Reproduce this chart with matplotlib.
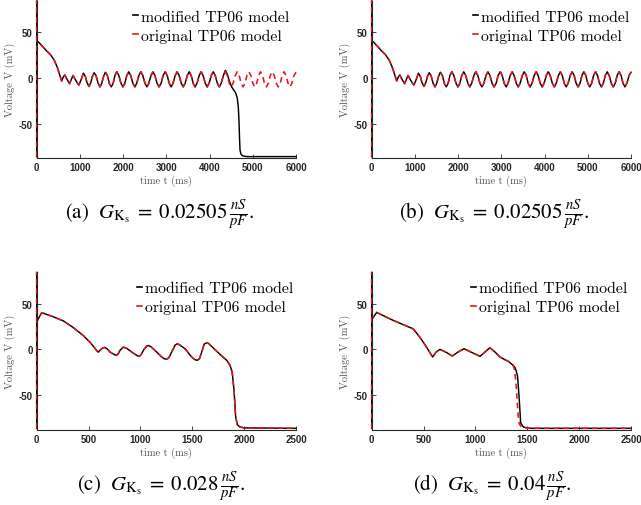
import matplotlib
matplotlib.use("Agg")
import matplotlib.pyplot as plt
from matplotlib.lines import Line2D

plt.rcParams['axes.unicode_minus'] = False

# ---- data (time in ms, voltage in mV) ----
# sustained oscillation trace, panels (a) red and (b) both curves
osc_t = [0, 0, 8, 40, 120, 215, 320, 407, 480, 540, 578, 612, 650, 705, 760, 800, 840, 905, 975, 1030,
         1080, 1125, 1165, 1210, 1250, 1290,
         1330, 1375, 1420, 1465, 1505, 1550,
         1590, 1635, 1680, 1725, 1770, 1810,
         1855, 1900, 1950, 1995, 2040, 2085,
         2130, 2175, 2225, 2270, 2315, 2365,
         2410, 2455, 2505, 2550, 2595, 2645,
         2690, 2735, 2785, 2830, 2880, 2925,
         2975, 3020, 3065, 3110, 3155, 3205,
         3250, 3295, 3345, 3390, 3435, 3485,
         3530, 3575, 3620, 3665, 3710, 3760,
         3805, 3850, 3900, 3945, 3990, 4040,
         4085, 4130, 4180, 4225, 4270, 4320,
         4365, 4410, 4455, 4500, 4545, 4595,
         4640, 4685, 4730, 4775, 4820, 4865,
         4910, 4955, 5000, 5045, 5090, 5135,
         5180, 5225, 5270, 5315, 5360, 5405,
         5450, 5495, 5545, 5590, 5635, 5680,
         5725, 5770, 5815, 5860, 5905, 5955, 6000]
osc_v = [-86, 84, 40, 39, 35, 30, 25, 19, 11, 2, -3.5, 0.5, 3, -2, -6.5, -2, 2.5, -3, -8, -2,
         5, 1.5, -5.5, -9.5, -5.5, 1.5,
         5.5, 2, -6, -10, -6, 2,
         6, 2.5, -6, -10, -6, 2.5,
         6.5, 2.5, -6, -10, -6, 2.5,
         6.5, 2.5, -6, -10, -6, 2.5,
         6.5, 2.5, -6, -10, -6, 2.5,
         6.5, 2.5, -6, -10, -6, 2.5,
         6.5, 2.5, -6, -10, -6, 2.5,
         6.5, 2.5, -6, -10, -6, 2.5,
         6.5, 2.5, -6, -10, -6, 2.5,
         6.5, 2.5, -6, -10, -6, 2.5,
         6.5, 2.5, -6, -10, -6, 2.5,
         6.5, 2.5, -6, -10, -6, 2.5,
         6.5, 2.5, -6, -10, -6, 2.5,
         6.5, 2.5, -6, -10, -6, 2.5,
         6.5, 2.5, -6, -10, -6, 2.5,
         6.5, 2.5, -6, -10, -6, 2.5,
         6.5, 2.5, -6, -10, -6, 2.5, 6]

# panel (a) modified model: follows oscillation until ~4320 ms then repolarises
a_cut = osc_t.index(4320) + 1
a_tail_t = [4365, 4410, 4460, 4512, 4560, 4604, 4640, 4665, 4680, 4695, 4705, 4725, 4760, 4850, 6000]
a_tail_v = [8, 4, -4, -10, -13.5, -16.6, -22, -32, -46, -68, -79, -83, -85, -86, -86]
a_mod_t = osc_t[:a_cut] + a_tail_t
a_mod_v = osc_v[:a_cut] + a_tail_v

# panel (c) both models (overlapping)
c_t = [0, 0, 4, 48, 150, 257, 350, 450, 520, 580, 594, 610, 627, 655, 680, 707, 755, 768, 785, 803,
       835, 870, 916, 975, 990, 1008, 1028, 1060, 1076, 1100, 1157, 1205, 1230, 1253, 1275, 1301,
       1335, 1356, 1380, 1430, 1494, 1525, 1549, 1570, 1591, 1615, 1639, 1660, 1687, 1767, 1832,
       1864, 1885, 1902, 1918, 1934, 1960, 2000, 2500]
c_v = [-86, 84, 31, 40, 36, 31, 24, 15, 7, -1.5, -3, -1, 0.8, 2.2, 0.5, -2.9, -6, -6.5, -5, -1.1,
       2.5, 1, -2.9, -7.2, -7.6, -5.5, -1.1, 3.5, 4.3, 3, -2.9, -8.3, -10.2, -10.8, -9, -2.9,
       4.8, 6.1, 4.8, 0.7, -8.3, -11.2, -11.9, -10, -2.9, 5.8, 7.2, 6.3, 3.2, -5.4, -11.9,
       -17.3, -25, -44, -73, -82, -84.6, -85.5, -86]

# panel (d)
d_mod_t = [0, 0, 4, 48, 200, 401, 466, 520, 588, 620, 658, 715, 777, 830, 890, 960, 1044, 1090, 1140,
           1190, 1237, 1280, 1317, 1360, 1382, 1395, 1407, 1423, 1436, 1462, 1525, 2500]
d_mod_v = [-86, 84, 33, 40.3, 32, 22.3, 13, 4, -8.3, -3, 0, -3, -7.2, -3, 0.7, -3, -7.6, -3, 1.8,
           -3, -8.3, -11, -13, -17, -19.8, -24, -30, -55, -80, -84.6, -86, -86]
d_cut = d_mod_t.index(1360) + 1
d_org_t = d_mod_t[:d_cut] + [1375, 1390, 1402, 1412, 1422, 1446, 1525, 2500]
d_org_v = d_mod_v[:d_cut] + [-21, -35, -55, -72, -81, -85, -86, -86]

xticks_long = [0, 1000, 2000, 3000, 4000, 5000, 6000]
xticks_short = [0, 500, 1000, 1500, 2000, 2500]
yticks = [-50, 0, 50]

captions = [r"(a)  $G_{\mathrm{K_s}}\;=\;0.02505\,\frac{nS}{pF}$.",
            r"(b)  $G_{\mathrm{K_s}}\;=\;0.02505\,\frac{nS}{pF}$.",
            r"(c)  $G_{\mathrm{K_s}}\;=\;0.028\,\frac{nS}{pF}$.",
            r"(d)  $G_{\mathrm{K_s}}\;=\;0.04\,\frac{nS}{pF}$."]

panels = [
    (a_mod_t, a_mod_v, osc_t, osc_v, 6000, xticks_long),
    (osc_t, osc_v, osc_t, osc_v, 6000, xticks_long),
    (c_t, c_v, c_t, c_v, 2500, xticks_short),
    (d_mod_t, d_mod_v, d_org_t, d_org_v, 2500, xticks_short),
]

W, H = 641, 506
fig = plt.figure(figsize=(W / 100, H / 100), dpi=100)

# axes boxes in pixels: left, top, right, bottom
boxes = [(36.7, 1.7, 296, 159), (371.7, 1.7, 631, 159),
         (36.7, 273.3, 296, 430.7), (371.7, 273.3, 631, 430.7)]
leg_x = [133, 473, 137, 471]
cap_pos = [(159, 215), (494, 215), (161, 487), (492, 487)]

dark = '#262626'
red = '#e8141b'
for i, (mt, mv, ot, ov, xmax, xt) in enumerate(panels):
    l, t, r, b = boxes[i]
    ax = fig.add_axes([l / W, 1 - b / H, (r - l) / W, (b - t) / H])
    ax.plot(mt, mv, color='black', lw=1.05, solid_joinstyle='round', clip_on=False)
    ax.plot(ot, ov, color=red, lw=1.15, linestyle=(0, (3.5, 2.5)), clip_on=False)
    ax.set_xlim(0, xmax)
    ax.set_ylim(-87.5, 84)
    ax.set_xticks(xt)
    ax.set_yticks(yticks)
    for s in ['top', 'right']:
        ax.spines[s].set_visible(False)
    for s in ['left', 'bottom']:
        ax.spines[s].set_color(dark)
        ax.spines[s].set_linewidth(0.8)
    ax.tick_params(direction='in', length=3, width=0.6, colors=dark, labelsize=7, pad=3)
    for lab in ax.get_xticklabels() + ax.get_yticklabels():
        lab.set_fontfamily('Liberation Sans')
        lab.set_fontweight('bold')
    ax.set_xlabel('time t (ms)', fontfamily='cmr10', fontsize=7.5, color='#505050', labelpad=2)
    ax.set_ylabel('Voltage V (mV)', fontfamily='cmr10', fontsize=7.5, color='#505050', labelpad=2)

    handles = [Line2D([], [], color='black', lw=1.2),
               Line2D([], [], color=red, lw=1.2)]
    ax.legend(handles, ['modified TP06 model', 'original TP06 model'],
              loc='upper left', bbox_to_anchor=((leg_x[i] - l) / (r - l), (b - t - 9) / (b - t)),
              frameon=False, handlelength=0.35, handletextpad=0.15, borderpad=0, borderaxespad=0,
              labelspacing=0.3, prop={'family': 'cmr10', 'size': 11.3})

    cx, cy = cap_pos[i]
    fig.text(cx / W, 1 - cy / H, captions[i], ha='center', va='center',
             fontsize=15, family='STIXGeneral', math_fontfamily='stix')

fig.savefig('out.png', dpi=100)
